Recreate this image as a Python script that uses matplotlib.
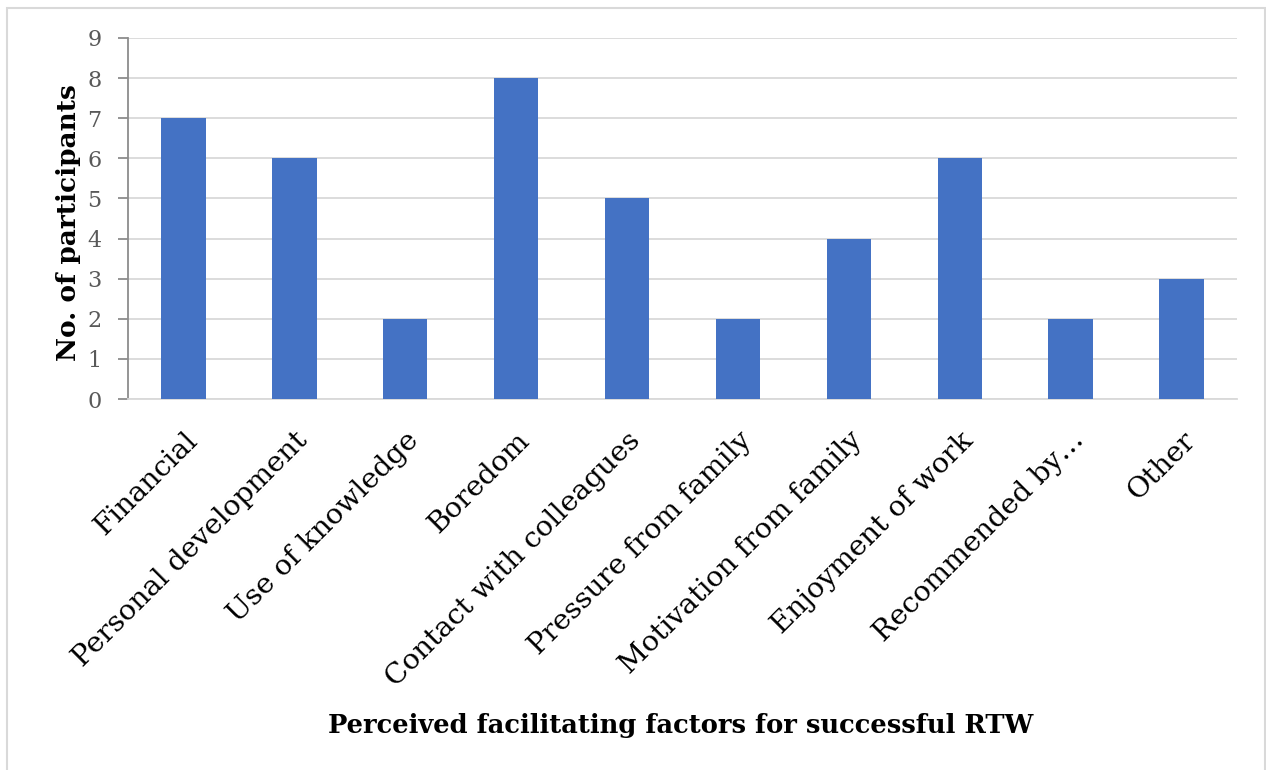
import matplotlib
matplotlib.use("Agg")
import matplotlib.pyplot as plt
from matplotlib.patches import Rectangle

# Survey results: reasons reported for returning to work
factors = [
    "Financial",
    "Personal development",
    "Use of knowledge",
    "Boredom",
    "Contact with colleagues",
    "Pressure from family",
    "Motivation from family",
    "Enjoyment of work",
    "Recommended by\u2026",
    "Other",
]
participants = [7, 6, 2, 8, 5, 2, 4, 6, 2, 3]
y_ticks = list(range(0, 10))

FONT = "DejaVu Serif"
BAR_COLOR = "#4472C4"
GRID_COLOR = "#D9D9D9"
TICK_COLOR = "#595959"

W, H, DPI = 1266, 770, 100
fig = plt.figure(figsize=(W / DPI, H / DPI), dpi=DPI)
fig.patch.set_facecolor("white")

# chart frame
fig.patches.append(Rectangle((7 / W, -0.05), (1265 - 7) / W, 1.05 - 8 / H,
                             transform=fig.transFigure, fill=False,
                             edgecolor=GRID_COLOR, linewidth=1.5))

left, right, top, bottom = 128, 1237, 38, 399
ax = fig.add_axes([left / W, 1 - bottom / H, (right - left) / W, (bottom - top) / H])

x = list(range(len(factors)))
ax.bar(x, participants, width=0.4, color=BAR_COLOR, zorder=3)

ax.set_xlim(-0.5, len(factors) - 0.5)
ax.set_ylim(0, 9)
ax.set_yticks(y_ticks)
ax.set_yticklabels([str(v) for v in y_ticks], fontfamily=FONT, fontsize=16,
                   color=TICK_COLOR)
ax.grid(axis="y", color=GRID_COLOR, linewidth=1.3, zorder=0)
ax.set_axisbelow(True)

for side in ("top", "right"):
    ax.spines[side].set_visible(False)
ax.spines["left"].set_color("#8C8C8C")
ax.spines["left"].set_linewidth(1.3)
ax.spines["bottom"].set_color(GRID_COLOR)
ax.spines["bottom"].set_linewidth(1.3)

ax.tick_params(axis="y", direction="out", length=7, width=1.3, color="#8C8C8C",
               pad=12)
ax.tick_params(axis="x", length=0, pad=20)

ax.set_xticks(x)
ax.set_xticklabels(factors, fontfamily=FONT, fontsize=20.5, color="black",
                   rotation=45, ha="right", va="top", rotation_mode="anchor")

ax.set_ylabel("No. of participants", fontfamily=FONT, fontsize=19,
              fontweight="bold", color="black")
ax.yaxis.set_label_coords(-(left - 81) / (right - left), 0.49)

fig.text(681 / W, 1 - 725 / H,
         "Perceived facilitating factors for successful RTW",
         fontfamily=FONT, fontsize=18.5, fontweight="bold", color="black",
         ha="center", va="center")

fig.savefig("out.png", dpi=DPI, facecolor="white")
